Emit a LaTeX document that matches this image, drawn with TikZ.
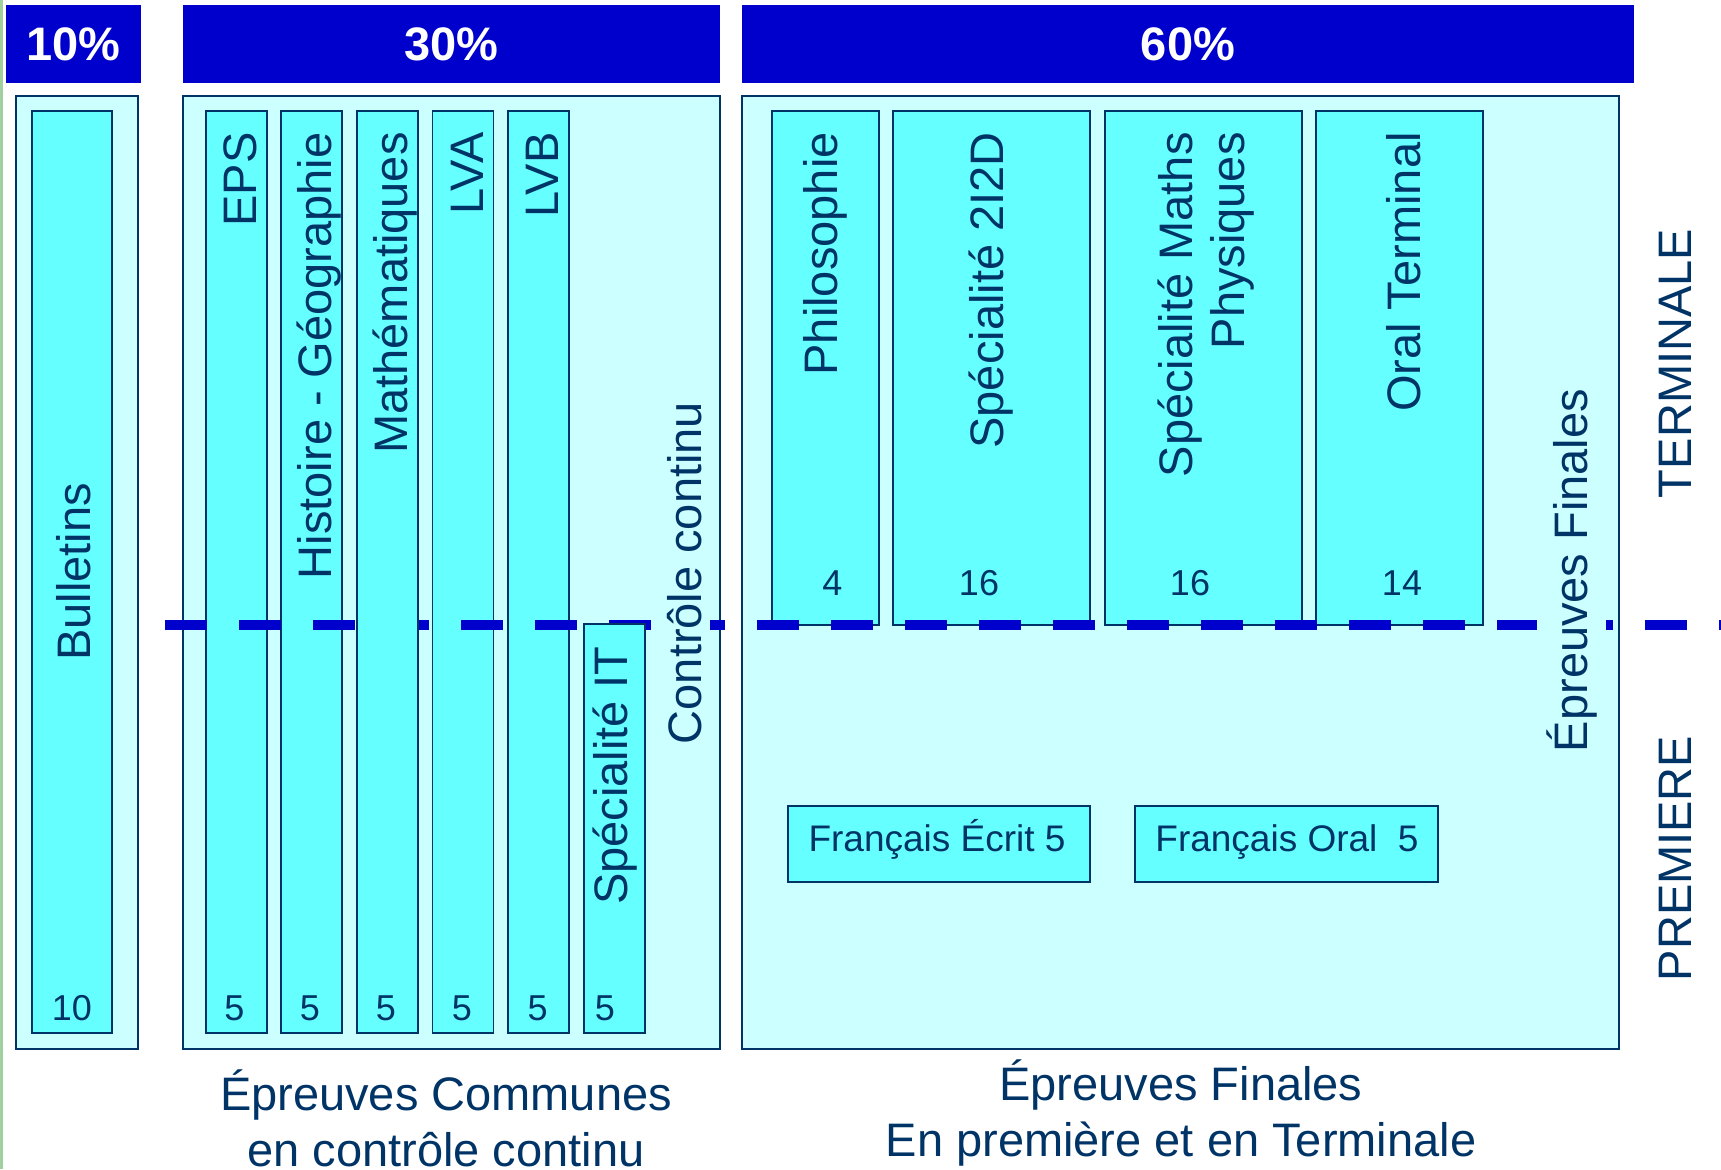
\documentclass[tikz,border=0pt]{standalone}
\usepackage{fontspec}
\setmainfont{Liberation Sans}
\definecolor{inkblue}{RGB}{0,51,102}
\definecolor{hdblue}{RGB}{0,0,204}
\definecolor{palecyan}{RGB}{204,255,255}
\definecolor{barcyan}{RGB}{102,255,255}
\definecolor{edgegreen}{RGB}{160,208,160}
\begin{document}
\begin{tikzpicture}[x=0.2mm,y=-0.2mm,
  head/.style={fill=hdblue,text=white,inner sep=0,minimum height=15.6mm,font=\bfseries\fontsize{9.4mm}{11.2mm}\selectfont},
  outer/.style={draw=inkblue,fill=palecyan,line width=0.3mm,inner sep=0,minimum height=190.6mm},
  bar/.style={draw=inkblue,fill=barcyan,line width=0.3mm,inner sep=0},
  vtext/.style={rotate=90,inner sep=0,text=inkblue,font=\fontsize{9.4mm}{11.6mm}\selectfont},
  num/.style={anchor=base,inner sep=0,text=inkblue,font=\fontsize{7.2mm}{8.6mm}\selectfont},
  htext/.style={anchor=base,inner sep=0,text=inkblue,align=center,font=\fontsize{9.4mm}{11.2mm}\selectfont},
  divide/.style={hdblue,line width=2.14mm,dash pattern=on 8.4mm off 6.4mm}]

  \useasboundingbox (0,0) rectangle (1721,1169);
  \fill[edgegreen] (0,0) rectangle (3,1169);

  \node[head,minimum width=27mm] at (73.5,44) (p10) {10\%};
  \node[head,minimum width=107.4mm] at (451.5,44) (p30) {30\%};
  \node[head,minimum width=178.4mm] at (1188,44) (p60) {60\%};

  \node[outer,minimum width=24.4mm] at (77,572.5) (bul) {};
  \node[outer,minimum width=107.4mm] at (451.5,572.5) (cc) {};
  \node[outer,minimum width=175.4mm] at (1180.5,572.5) (ef) {};

  \node[bar,minimum width=16mm,minimum height=184.4mm] at (72,572) (bulbar) {};
  \node[bar,minimum width=12.2mm,minimum height=184.4mm] at (236.5,572) (eps) {};
  \node[bar,minimum width=12.2mm,minimum height=184.4mm] at (311.5,572) (hg) {};
  \node[bar,minimum width=12.2mm,minimum height=184.4mm] at (463,572) (lva) {};
  \node[bar,minimum width=12.2mm,minimum height=184.4mm] at (538.5,572) (lvb) {};

  \node[bar,minimum width=21.4mm,minimum height=102.8mm] at (825.5,368) (philo) {};
  \node[bar,minimum width=39.4mm,minimum height=102.8mm] at (991.5,368) (sti) {};
  \node[bar,minimum width=39.4mm,minimum height=102.8mm] at (1203.5,368) (smp) {};
  \node[bar,minimum width=33.4mm,minimum height=102.8mm] at (1399.5,368) (oral) {};

  \node[vtext,anchor=base] at (90.5,572) (bultxt) {Bulletins};
  \node[vtext,anchor=base east] at (256,132) (epstxt) {EPS};
  \node[vtext,anchor=base east] at (331,132) (hgtxt) {Histoire - Géographie};
  \node[vtext,anchor=base east] at (483,132) (lvatxt) {LVA};
  \node[vtext,anchor=base east] at (558,132) (lvbtxt) {LVB};
  \node[vtext,anchor=base east] at (837,132) (philotxt) {Philosophie};
  \node[vtext,anchor=base east] at (1003.5,132) (stitxt) {Spécialité 2I2D};
  \node[vtext,anchor=base east,align=right,font=\fontsize{9.4mm}{10.4mm}\selectfont] at (1244,132) (smptxt) {Spécialité Maths\\Physiques};
  \node[vtext,anchor=base east] at (1420.5,132) (oraltxt) {Oral Terminal};

  \node[num] at (72,1020) (bulnum) {10};
  \node[num] at (234.5,1020) (epsnum) {5};
  \node[num] at (310,1020) (hgnum) {5};
  \node[num] at (462,1020) (lvanum) {5};
  \node[num] at (537.6,1020) (lvbnum) {5};
  \node[num] at (832.5,595) (philonum) {4};
  \node[num] at (979,595) (stinum) {16};
  \node[num] at (1190,595) (smpnum) {16};
  \node[num] at (1402,595) (oralnum) {14};

  \coordinate (cutl) at (165,625);
  \coordinate (cutr) at (1721,625);
  \draw[divide] (cutl) -- (cutr);

  \node[bar,minimum width=12.2mm,minimum height=184.4mm] at (387.5,572) (mat) {};
  \node[vtext,anchor=base east] at (407,132) (mattxt) {Mathématiques};
  \node[num] at (386,1020) (matnum) {5};

  \node[bar,minimum width=12.2mm,minimum height=81.8mm] at (614.5,828.5) (speit) {};
  \node[vtext,anchor=base east] at (627,646) (speittxt) {Spécialité IT};
  \node[num] at (605,1020) (speitnum) {5};

  \node[vtext,anchor=base,fill=palecyan,inner sep=1.7mm] at (701,573) (cctxt) {Contrôle continu};
  \node[vtext,anchor=base,fill=palecyan,inner sep=1.8mm] at (1587,570.5) (eftxt) {Épreuves Finales};

  \node[vtext,anchor=base] at (1691,363.5) (term) {TERMINALE};
  \node[vtext,anchor=base] at (1691,858.5) (prem) {PREMIERE};

  \node[bar,minimum width=60.4mm,minimum height=15.2mm] at (939,844) (fre) {};
  \node[num,font=\fontsize{7.4mm}{8.8mm}\selectfont] at (937,851) (fretxt) {Français Écrit 5};
  \node[bar,minimum width=60.6mm,minimum height=15.2mm] at (1286.5,844) (fro) {};
  \node[num,font=\fontsize{7.4mm}{8.8mm}\selectfont] at (1287,851) (frotxt) {Français Oral~~5};

  \node[htext] at (446,1166) (cclbl) {Épreuves Communes\\en contrôle continu};
  \node[htext] at (1181,1156.6) (eflbl) {Épreuves Finales\\En première et en Terminale};
\end{tikzpicture}
\end{document}
